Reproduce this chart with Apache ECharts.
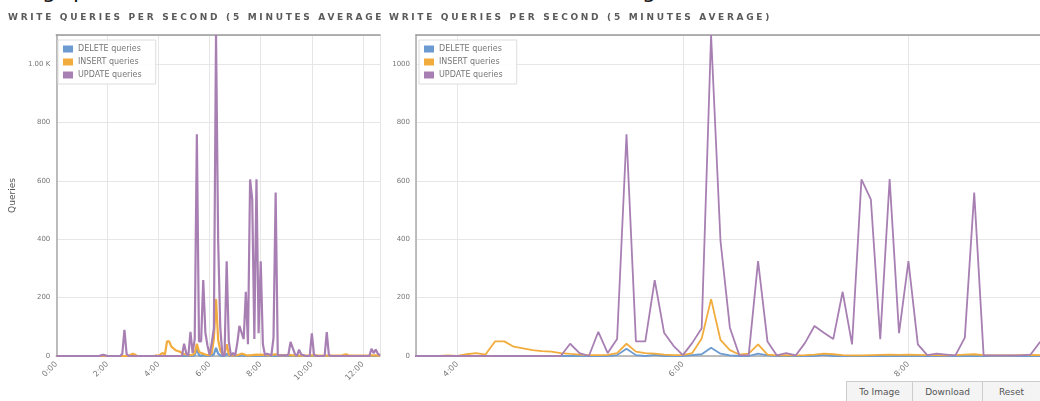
<!DOCTYPE html>
<html><head><meta charset="utf-8">
<script src="https://cdn.jsdelivr.net/npm/echarts@6/dist/echarts.min.js"></script>
<style>
html,body{margin:0;padding:0;background:#fff;width:1040px;height:401px;overflow:hidden;font-family:"DejaVu Sans",sans-serif;}
.panel{position:absolute;top:0;height:401px;overflow:hidden;}
#left{left:0;width:382px;}
#right{left:384px;width:656px;}
.chart{position:absolute;left:0;top:0;width:100%;height:100%;}
.title{position:absolute;top:12px;font-weight:bold;font-size:9px;letter-spacing:2.7px;color:#5a5a5a;white-space:nowrap;z-index:2;}
.head{position:absolute;top:-20px;font-size:22px;line-height:22px;color:#111;white-space:nowrap;}
.tb{position:absolute;top:381px;height:22px;box-sizing:border-box;border:1px solid #ccc;background:#f4f4f4;color:#555;font-size:9px;line-height:20px;text-align:center;}
</style></head>
<body>
<div class="head" style="left:42px">g</div>
<div class="head" style="left:73px">p</div>
<div class="head" style="left:642px">g</div>
<div class="panel" id="left"><div class="chart" id="c1"></div><div class="title" style="left:8px">WRITE QUERIES PER SECOND (5 MINUTES AVERAGE)</div></div>
<div class="panel" id="right"><div class="chart" id="c2"></div><div class="title" style="left:5px">WRITE QUERIES PER SECOND (5 MINUTES AVERAGE)</div></div>
<div class="tb" style="left:846px;width:67px">To Image</div>
<div class="tb" style="left:912px;width:71px">Download</div>
<div class="tb" style="left:982px;width:59px">Reset</div>
<script>
// 5-minute samples starting at 0:00, one row per hour
const seriesNames = ['DELETE queries', 'INSERT queries', 'UPDATE queries'];
const deleteVals = [
  0,0,0,0,0,0,0,0,0,0,0,0,
  0,0,0,0,0,0,0,0,0,0,0,0,
  0,0,0,0,0,0,0,0,0,0,0,0,
  0,0,0,0,0,0,0,0,0,0,0,0,
  0,0,0,0,0,0,0,0,0,0,0,0,
  0,0,0,0,0,3,25,3,0,4,0,0,
  0,3,6,28,8,2,0,0,8,2,0,0,
  0,0,0,4,0,0,0,0,0,0,0,0,
  0,0,0,0,0,0,0,0,0,0,0,0,
  0,0,0,0,0,0,0,0,0,0,0,0,
  0,0,0,0,0,0,0,0,0,0,0,0,
  0,0,0,0,0,0,0,0,0,0,0,0,
  0,0,0,0,0,0,0,0,0
];
const insertVals = [
  0,0,0,0,0,0,0,0,0,0,0,0,
  0,0,0,0,0,0,0,0,0,0,0,0,
  0,0,0,0,0,0,0,0,0,0,0,4,
  8,4,0,0,0,0,0,0,0,0,0,2,
  0,6,10,5,50,50,32,26,20,17,15,10,
  7,5,3,3,4,10,42,15,10,8,5,3,
  3,10,60,195,55,20,5,8,40,5,2,3,
  2,3,5,8,6,3,2,2,3,4,5,4,
  5,4,3,3,2,3,5,6,3,2,2,2,
  3,4,3,2,2,2,1,1,1,1,1,1,
  2,2,2,1,1,1,1,1,1,1,1,1,
  1,1,1,4,6,3,1,1,1,1,1,1,
  1,1,1,1,2,2,2,1,1
];
const updateVals = [
  0,0,0,0,0,0,0,0,0,0,0,0,
  0,0,0,0,0,0,0,0,0,2,4,2,
  0,0,0,0,0,0,0,8,90,8,0,0,
  0,0,0,0,0,0,0,0,0,0,0,0,
  0,0,0,0,0,0,0,0,0,0,0,0,
  42,10,0,83,10,58,760,50,50,260,80,35,
  3,45,95,1100,395,97,3,2,325,50,2,10,
  2,45,103,80,58,220,40,605,537,58,606,78,
  325,40,3,8,5,2,63,560,2,2,2,2,
  2,5,48,28,8,0,22,5,3,0,0,0,
  78,5,0,0,0,0,0,82,3,0,0,0,
  0,0,0,0,0,0,0,0,0,0,0,0,
  0,0,0,0,25,10,22,8,2
];
const stepMinutes = 5;
const colors = ['#6c9bd2', '#f2ac3e', '#a87fb3'];

function pairs(vals){ return vals.map((v,i)=>[i*stepMinutes, v]); }
function fmtTime(v){ const h=Math.floor(v/60), m=Math.round(v%60); return h+':'+(m<10?'0':'')+m; }

function makeOption(cfg){
  const gridCol = '#e6e6e6';
  return {
    animation:false,
    color:colors,
    textStyle:{fontFamily:'DejaVu Sans'},
    grid:{left:cfg.gridLeft, top:35, right:cfg.gridRight, bottom:45},
    legend:{
      orient:'vertical', left:cfg.legendLeft, top:40,
      data:seriesNames, icon:'rect', itemWidth:10, itemHeight:7, itemGap:5,
      textStyle:{fontSize:8, color:'#777'},
      backgroundColor:'rgba(255,255,255,0.9)', borderColor:'#ddd', borderWidth:1,
      padding:[5,14,5,5]
    },
    xAxis:[{
      type:'value', min:cfg.xMin, max:cfg.xMax,
      ...cfg.xTicks,
      axisLine:{show:true, onZero:false, lineStyle:{color:'#aaa', width:1.5}},
      axisTick:{show:false},
      axisLabel:{rotate:45, fontSize:8, color:'#777', formatter:fmtTime, showMinLabel:cfg.showMinX, showMaxLabel:false, margin:7},
      splitLine:{show:true, lineStyle:{color:gridCol}}
    },{
      type:'value', position:'top', min:cfg.xMin, max:cfg.xMax,
      axisLine:{show:true, onZero:false, lineStyle:{color:'#999', width:1.5}},
      axisTick:{show:false}, axisLabel:{show:false}, splitLine:{show:false}
    }],
    yAxis:{
      type:'value', min:0, max:1100, interval:200,
      name:cfg.yName, nameLocation:'middle', nameGap:38, nameTextStyle:{fontSize:9, color:'#555'},
      axisLine:{show:true, lineStyle:{color:'#aaa', width:1.5}},
      axisTick:{show:false},
      axisLabel:{fontSize:7, color:'#777', formatter:cfg.yFmt, showMaxLabel:false, margin:6},
      splitLine:{show:true, lineStyle:{color:gridCol}}
    },
    series:[deleteVals, insertVals, updateVals].map((vals,k)=>({
      name:seriesNames[k], type:'line', data:pairs(vals), showSymbol:false, symbol:'none',
      lineStyle:{width:cfg.lw, color:colors[k]}, itemStyle:{color:colors[k]}
    }))
  };
}

const c1 = echarts.init(document.getElementById('c1'), null, {renderer:'canvas'});
c1.setOption(makeOption({
  gridLeft:55, gridRight:2, legendLeft:58, xMin:0, xMax:760,
  xTicks:{interval:120}, showMinX:true, yName:'Queries', lw:2.2,
  yFmt:v=> v>=1000 ? (v/1000).toFixed(2)+' K' : String(v)
}));
const c2 = echarts.init(document.getElementById('c2'), null, {renderer:'canvas'});
c2.setOption(makeOption({
  gridLeft:32, gridRight:0, legendLeft:35, xMin:218, xMax:550,
  xTicks:{minInterval:120, maxInterval:120}, showMinX:false, yName:'', lw:1.8,
  yFmt:v=> String(v)
}));
</script>
</body></html>
